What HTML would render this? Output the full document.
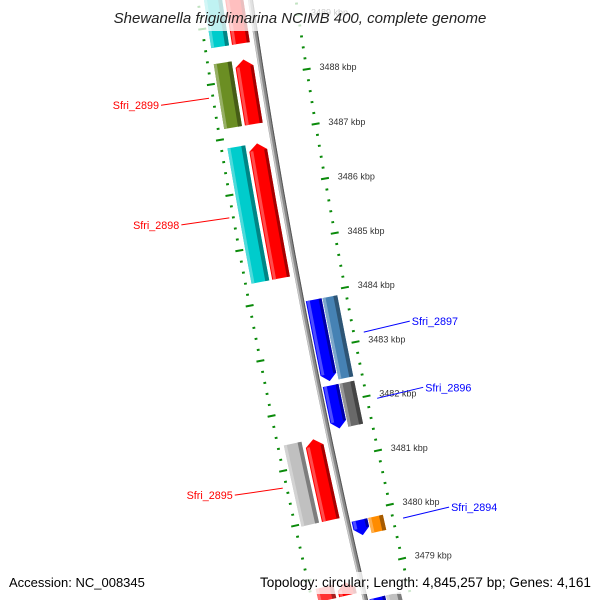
<!DOCTYPE html>
<html><head><meta charset="utf-8"><style>
html,body{margin:0;padding:0;background:#fff;overflow:hidden;width:600px;height:600px;}
svg{display:block;font-family:"Liberation Sans",sans-serif;overflow:hidden;}
</style></head><body>
<svg id="map" width="600" height="600" viewBox="0 0 600 600" xmlns="http://www.w3.org/2000/svg">
<g id="ticks"></g>
<g id="backbone"></g>
<g id="features"></g>
<g id="labels"></g>
<rect x="105" y="0" width="392" height="31" fill="#fff" fill-opacity="0.75"/>
<text x="300" y="23" text-anchor="middle" font-size="15" font-style="italic" fill="#222">Shewanella frigidimarina NCIMB 400, complete genome</text>
<rect x="4" y="572" width="144" height="22" fill="#fff" fill-opacity="0.8"/>
<rect x="257" y="572" width="339" height="22" fill="#fff" fill-opacity="0.8"/>
<text x="9" y="587" font-size="13" fill="#000">Accession: NC_008345</text>
<text x="591" y="587" text-anchor="end" font-size="13.6" fill="#000">Topology: circular; Length: 4,845,257 bp; Genes: 4,161</text>
</svg>
<script>
const geneNames = ['', 'Sfri_2899', 'Sfri_2898', 'Sfri_2895', 'Sfri_2897', 'Sfri_2896', 'Sfri_2894', '', ''];
const geneStart = [3488.64, 3487.18, 3484.38, 3479.96, 3482.40, 3481.53, 3479.57, 3477.3, 3478.58];
const geneEnd = [3489.9, 3488.35, 3486.83, 3481.44, 3483.89, 3482.32, 3479.85, 3478.42, 3478.82];
const geneStrand = [1, 1, 1, 1, -1, -1, -1, -1, 1];
const cogColor = ['#00cccc', '#6b8e23', '#00cccc', '#c0c0c0', '#4682b4', '#696969', '#ff8c00', '#c0c0c0', '#ff3030'];
const majorTicks = [3477, 3478, 3479, 3480, 3481, 3482, 3483, 3484, 3485, 3486, 3487, 3488, 3489, 3490];

const NS = 'http://www.w3.org/2000/svg';
const CX = 7481, CY = -1075, R0 = 7310;
const PHI0 = 169.19, DPHI = 0.437, K0 = 3484;
function phi(k){ return (PHI0 + (k - K0) * DPHI) * Math.PI / 180; }
function P(R, k){ const a = phi(k); return [CX + R * Math.cos(a), CY + R * Math.sin(a)]; }
function f(p){ return p[0].toFixed(2) + ' ' + p[1].toFixed(2); }
function el(tag, attrs, parent){
  const e = document.createElementNS(NS, tag);
  for (const a in attrs) e.setAttribute(a, attrs[a]);
  parent.appendChild(e); return e;
}
function band(r1, r2, k1, k2){
  return 'M' + f(P(r2, k1)) + ' A' + r2 + ' ' + r2 + ' 0 0 1 ' + f(P(r2, k2)) +
    ' L' + f(P(r1, k2)) + ' A' + r1 + ' ' + r1 + ' 0 0 0 ' + f(P(r1, k1)) + ' Z';
}
const HEAD = 7 / 55.4;
function arrow(r1, r2, k1, k2, dir){
  const rm = (r1 + r2) / 2;
  if (dir > 0){
    const kb = Math.max(k1, k2 - HEAD);
    return 'M' + f(P(r2, k1)) + ' A' + r2 + ' ' + r2 + ' 0 0 1 ' + f(P(r2, kb)) +
      ' L' + f(P(rm, k2)) + ' L' + f(P(r1, kb)) + ' A' + r1 + ' ' + r1 + ' 0 0 0 ' + f(P(r1, k1)) + ' Z';
  } else {
    const kb = Math.min(k2, k1 + HEAD);
    return 'M' + f(P(r2, kb)) + ' A' + r2 + ' ' + r2 + ' 0 0 1 ' + f(P(r2, k2)) +
      ' L' + f(P(r1, k2)) + ' A' + r1 + ' ' + r1 + ' 0 0 0 ' + f(P(r1, kb)) + ' L' + f(P(rm, k1)) + ' Z';
  }
}
function shade(col, amt){
  const n = parseInt(col.slice(1), 16);
  let r = n >> 16, g = (n >> 8) & 255, b = n & 255;
  if (amt < 0){ r *= 1 + amt; g *= 1 + amt; b *= 1 + amt; }
  else { r += (255 - r) * amt; g += (255 - g) * amt; b += (255 - b) * amt; }
  return 'rgb(' + Math.round(r) + ',' + Math.round(g) + ',' + Math.round(b) + ')';
}

// ticks
const tg = document.getElementById('ticks');
const rings = [7265, 7362];
for (let ri = 0; ri < rings.length; ri++){
  const R = rings[ri];
  for (let i = 0; i <= (majorTicks[majorTicks.length-1] - majorTicks[0]) * 5; i++){
    const k = majorTicks[0] + i * 0.2;
    const major = i % 5 === 0;
    const h = major ? 4 : 1.4;
    const a = P(R - h, k), b = P(R + h, k);
    const t = el('line', {x1: a[0], y1: a[1], x2: b[0], y2: b[1], stroke: '#0a8a0a', 'stroke-width': 2}, tg);
    
    
  }
}
for (let i = 0; i < majorTicks.length; i++){
  const p = P(7252, majorTicks[i]);
  const t = el('text', {x: p[0].toFixed(1), y: (p[1] + 3).toFixed(1), 'font-size': 9, fill: '#333'}, tg);
  t.textContent = majorTicks[i] + ' kbp';
  
  
}

// backbone
const bg = document.getElementById('backbone');
function arcLine(R, k1, k2){ return 'M' + f(P(R, k1)) + ' A' + R + ' ' + R + ' 0 0 1 ' + f(P(R, k2)); }
const bb1 = el('path', {d: arcLine(R0, 3477.8, 3489.7), stroke: '#8a8a8a', 'stroke-width': 5, fill: 'none'}, bg);


const bb2 = el('path', {d: arcLine(R0 + 1.5, 3477.8, 3489.7), stroke: '#c8c8c8', 'stroke-width': 1.5, fill: 'none'}, bg);


const bb3 = el('path', {d: arcLine(R0 - 2, 3477.8, 3489.7), stroke: '#555', 'stroke-width': 1, fill: 'none'}, bg);



// features
const fg = document.getElementById('features');
const lg = document.getElementById('labels');
for (let i = 0; i < geneStart.length; i++){
  const s = geneStrand[i], k1 = geneStart[i], k2 = geneEnd[i];
  let gr1, gr2, cr1, cr2, gcol;
  if (s > 0){ gr1 = 7317; gr2 = 7335; cr1 = 7338; cr2 = 7356; gcol = '#ff0000'; }
  else { gr1 = 7290; gr2 = 7306; cr1 = 7274; cr2 = 7289; gcol = '#0000ff'; }
  const g = el('g', {}, fg);
  
  
  const c = el('path', {d: band(cr1, cr2, k1, k2), fill: cogColor[i]}, g);
  
  
  const cd = el('path', {d: band(cr1, cr1 + 4, k1, k2), fill: shade(cogColor[i], -0.35)}, g);
  
  
  const cl = el('path', {d: band(cr2 - 3, cr2, k1, k2), fill: shade(cogColor[i], 0.3)}, g);
  
  
  const a = el('path', {d: arrow(gr1, gr2, k1, k2, s), fill: gcol}, g);
  
  
  const kb1 = s > 0 ? k1 : Math.min(k2, k1 + HEAD), kb2 = s > 0 ? Math.max(k1, k2 - HEAD) : k2;
  const ad = el('path', {d: band(gr1, gr1 + 3, kb1, kb2), fill: shade(gcol, -0.35)}, g);
  
  
  const al = el('path', {d: band(gr2 - 4, gr2 - 1, kb1, kb2), fill: shade(gcol, 0.3)}, g);
  
  
  if (geneNames[i]){
    const mid = (k1 + k2) / 2;
    let p, q, anchor;
    if (s > 0){ p = P(7366, mid); q = [p[0] - 48, p[1] + 7]; anchor = 'end'; }
    else { p = P(7255, mid); q = [p[0] + 46, p[1] - 11]; anchor = 'start'; }
    const col = s > 0 ? '#ff0000' : '#0000ff';
    const ln = el('line', {x1: p[0], y1: p[1], x2: q[0], y2: q[1], stroke: col, 'stroke-width': 1}, lg);
    
    
    const tx = el('text', {x: (q[0] + (s > 0 ? -2 : 2)).toFixed(1), y: (q[1] + 4).toFixed(1), 'font-size': 10.8, fill: col, 'text-anchor': anchor}, lg);
    tx.textContent = geneNames[i];
    
    
  }
}
</script>
</body></html>
